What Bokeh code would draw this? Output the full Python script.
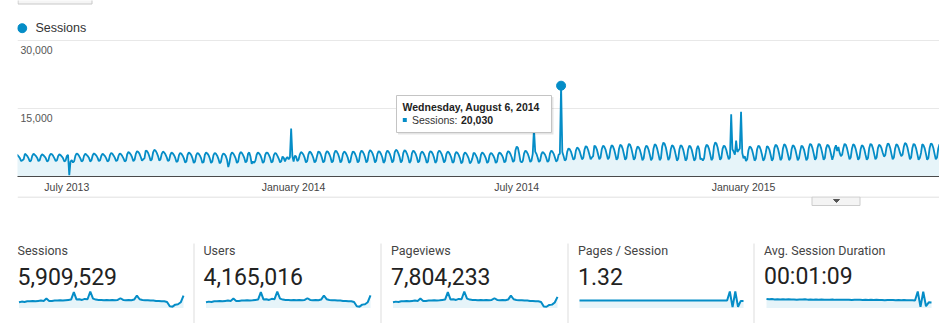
import pandas as pd
from bokeh.plotting import figure
from bokeh.layouts import column
from bokeh.models import Range1d, FixedTicker, Grid, DatetimeTickFormatter
from bokeh.core.properties import value
from bokeh.embed import file_html
from bokeh.resources import INLINE

# ------------------------------------------------------------------ data
first_day = "2013-05-20"          # a Monday; each row below is one week, Mon..Sun

sessions_2013_q2 = [
    4500, 4900, 4700, 4400, 4000, 3400, 3600,
    3800, 5000, 4800, 4500, 4000, 3300, 3500,
    4600, 5000, 4800, 4500, 4100, 3400, 3600,
    4500, 4900, 4700, 4400, 4000, 3300, 3500,
    4600, 5000, 4900, 4500, 4000, 3400, 3600,
    4500, 4900, 4700, 4400, 4000, 3300, 3500,
]
sessions_2013_q3 = [
    4500, 4800, 300, 3300, 3600, 3100, 3400,
    4600, 5100, 4900, 4500, 4000, 3300, 3500,
    4600, 5000, 4800, 4500, 4100, 3300, 3600,
    4700, 5100, 4900, 4600, 4100, 3400, 3600,
    4600, 5000, 4800, 4500, 4000, 3300, 3500,
    4700, 5200, 5000, 4600, 4100, 3400, 3600,
    4600, 5100, 4900, 4500, 4000, 3300, 3500,
    4900, 5400, 5200, 4800, 4200, 3400, 3700,
    5000, 5600, 5400, 5000, 4300, 3500, 3800,
    4000, 5700, 5600, 5200, 4400, 3500, 3800,
    5300, 5900, 5700, 5200, 4500, 3500, 3800,
    5000, 5500, 5300, 4900, 4300, 3400, 3600,
    4800, 5300, 5100, 4700, 4100, 3200, 3400,
]
sessions_2013_q4 = [
    4700, 5200, 5000, 4600, 4000, 3100, 3300,
    4800, 5300, 5100, 4700, 4000, 3000, 3300,
    4700, 5200, 5000, 4600, 4000, 3000, 3200,
    4800, 5300, 5100, 4700, 4000, 3000, 3300,
    4700, 5200, 5000, 4600, 3900, 2900, 3200,
    4600, 5100, 4900, 4500, 3700, 2100, 3100,
    4800, 5300, 5100, 4600, 4000, 3000, 3300,
    4800, 5400, 5200, 4700, 4100, 3100, 3400,
    5000, 5300, 4400, 2800, 3300, 3000, 3500,
    4800, 5300, 5100, 4700, 4000, 3000, 3300,
    4800, 5300, 5200, 4700, 4100, 3100, 3300,
    4700, 5200, 5000, 4500, 3900, 3100, 3400,
    4400, 4100, 3300, 4000, 4300, 3800, 4200,
]
sessions_2014_q1 = [
    10600, 4500, 3300, 4600, 4400, 3400, 3700,
    4800, 5400, 5200, 4800, 4100, 3100, 3400,
    4900, 5500, 5300, 4800, 4100, 3100, 3400,
    4500, 5500, 5400, 4900, 4100, 3100, 3400,
    5000, 5600, 5400, 4900, 4200, 3100, 3400,
    5100, 5700, 5500, 5000, 4200, 3100, 3500,
    5000, 5500, 5300, 4800, 4100, 3000, 3300,
    4700, 5500, 5400, 4900, 4200, 3100, 3400,
    5100, 5700, 5500, 5000, 4200, 3100, 3500,
    5200, 5800, 5600, 5100, 4300, 3100, 3500,
    5000, 5600, 5400, 4900, 4200, 3000, 3400,
    5100, 5700, 5500, 5000, 4200, 3100, 3500,
    5300, 5900, 5700, 5100, 4300, 3100, 3500,
]
sessions_2014_q2 = [
    5200, 5800, 5600, 5000, 4200, 3000, 3400,
    5100, 5700, 5500, 5000, 4200, 3100, 3400,
    5000, 5500, 5300, 4800, 4100, 3000, 3300,
    5100, 5600, 5400, 4900, 4100, 3000, 3400,
    5200, 5700, 5500, 5000, 4200, 3100, 3500,
    5000, 5500, 5300, 4800, 4100, 3000, 3300,
    4900, 5400, 5200, 4700, 4000, 2900, 3200,
    4800, 5300, 5100, 4600, 4000, 2900, 3200,
    4000, 5200, 5100, 4600, 4000, 2900, 3200,
    4800, 5300, 5100, 4600, 4000, 3000, 3300,
    4700, 5200, 5000, 4600, 4000, 3000, 3300,
    4800, 5300, 5100, 4700, 4100, 3100, 3400,
    5000, 5600, 5400, 4900, 4200, 3200, 3500,
]
sessions_2014_q3 = [
    5800, 6600, 6300, 5000, 3400, 3100, 3500,
    5100, 5700, 5500, 5000, 4200, 3200, 3500,
    5000, 10500, 5500, 5000, 4200, 3200, 3500,
    4900, 5400, 5200, 4800, 4100, 3200, 3500,
    5100, 5700, 5500, 5000, 4200, 3300, 3600,
    4800, 5000, 20030, 5400, 4500, 3500, 3800,
    5500, 6200, 6000, 5500, 4600, 3700, 4000,
    5700, 6400, 6200, 5600, 4700, 3800, 4100,
    5900, 6700, 6500, 5800, 4800, 3800, 4200,
    4500, 6800, 6600, 6000, 4900, 3800, 4200,
    6000, 6800, 6600, 6000, 4900, 3800, 4200,
    6000, 6900, 6700, 6000, 4900, 3700, 4100,
    6100, 7000, 6800, 6100, 4900, 3700, 4100,
]
sessions_2014_q4 = [
    6300, 7200, 7000, 6200, 5000, 3700, 4100,
    5800, 6600, 6400, 5800, 4800, 3600, 4000,
    6000, 6800, 6600, 5900, 4800, 3600, 4000,
    6200, 7100, 6900, 6100, 4900, 3600, 4000,
    6600, 7500, 7200, 6400, 5000, 3600, 4100,
    6000, 6900, 6700, 6000, 4800, 3500, 3900,
    6000, 6900, 6700, 6000, 4800, 3500, 3900,
    5900, 6800, 6600, 5900, 4700, 3500, 3900,
    6000, 6800, 6000, 3800, 4000, 3500, 4000,
    6200, 7000, 6800, 6100, 4900, 3600, 4000,
    6600, 7500, 7300, 6400, 5000, 3700, 4100,
    6100, 6800, 6600, 5900, 4800, 3800, 4200,
    13700, 6000, 5500, 4800, 7900, 5400, 5800,
]
sessions_2015_q1 = [
    6200, 14300, 5200, 4000, 4500, 3400, 3800,
    5800, 6600, 6400, 5800, 4700, 3500, 3900,
    6000, 6800, 6600, 5900, 4800, 3500, 3900,
    5200, 6700, 6500, 5900, 4800, 3500, 3900,
    6200, 7000, 6800, 6100, 4900, 3600, 4000,
    6200, 7100, 6900, 6100, 4900, 3600, 4000,
    6000, 6900, 6700, 6000, 4800, 3600, 4000,
    5600, 6800, 6600, 6000, 4800, 3600, 4000,
    6300, 7200, 7000, 6200, 5000, 3700, 4100,
    6300, 7200, 7000, 6200, 5000, 3700, 4100,
    6200, 7000, 6800, 6100, 4900, 3700, 4600,
    6200, 6900, 5600, 6500, 5200, 4500, 4800,
    6300, 7200, 7000, 6200, 5000, 3800, 4200,
]
sessions_2015_q2 = [
    6200, 7100, 6900, 6100, 4900, 3700, 4100,
    6000, 6900, 6700, 6000, 4800, 3700, 4100,
    6300, 7200, 7000, 6200, 5000, 3800, 4200,
    6200, 7000, 6800, 6200, 5200, 4400, 4700,
    6400, 7300, 7100, 6300, 5000, 3800, 4200,
    6200, 7100, 6900, 6200, 5200, 4500, 4800,
    6500, 7400, 7200, 6400, 5100, 3800, 4200,
    6300, 7200, 7000, 6200, 5000, 3700, 4100,
    5200, 7100, 6900, 6200, 5000, 3700, 4100,
    6300, 7300, 7100, 6300, 5000, 3800, 4200,
    6200, 7100, 6900, 6100, 5000, 3800, 4200,
]

view_start = "2013-05-22"
view_end = "2015-06-09"
highlight_date = "2014-08-06"

y_ticks = [15000, 30000]
y_tick_labels = ["15,000", "30,000"]
x_tick_dates = ["2013-07-01", "2014-01-01", "2014-07-01", "2015-01-01"]
x_tick_labels = ["July 2013", "January 2014", "July 2014", "January 2015"]

kpi_names = ["Sessions", "Users", "Pageviews", "Pages / Session", "Avg. Session Duration"]
total_sessions = 5909529
total_users = 4165016
total_pageviews = 7804233
pages_per_session = 1.32
avg_session_seconds = 69

sessions_spark_k = [6.8, 7.6, 7.2, 8.0, 8.0, 8.4, 8.0, 8.4, 8.8, 8.4, 11.2, 8.4, 8.4, 8.8, 8.8, 9.2,
                    8.8, 9.2, 9.6, 10.0, 18.8, 10.0, 10.4, 9.6, 10.8, 10.4, 19.6, 11.2, 10.0, 9.6,
                    9.6, 9.2, 9.6, 9.2, 9.6, 9.2, 9.6, 11.6, 9.6, 9.2, 9.6, 9.2, 10.0, 14.8, 10.4,
                    9.6, 9.2, 9.2, 8.8, 8.8, 8.4, 8.4, 8.0, 8.0, 7.2, 2.0, 1.6, 4.0, 4.4, 6.8, 14.8]
users_spark_k = [4.8, 5.3, 5.0, 5.6, 5.6, 5.9, 5.6, 5.9, 6.2, 5.9, 7.8, 5.9, 5.9, 6.2, 6.2, 6.4,
                 6.2, 6.4, 6.7, 7.0, 13.2, 7.0, 7.3, 6.7, 7.6, 7.3, 13.7, 7.8, 7.0, 6.7,
                 6.7, 6.4, 6.7, 6.4, 6.7, 6.4, 6.7, 8.1, 6.7, 6.4, 6.7, 6.4, 7.0, 10.4, 7.3,
                 6.7, 6.4, 6.4, 6.2, 6.2, 5.9, 5.9, 5.6, 5.6, 5.0, 1.4, 1.1, 2.8, 3.1, 4.8, 10.4]
pageviews_spark_k = [9.0, 10.0, 9.5, 10.6, 10.6, 11.1, 10.6, 11.1, 11.6, 11.1, 14.8, 11.1, 11.1, 11.6,
                     11.6, 12.1, 11.6, 12.1, 12.7, 13.2, 24.8, 13.2, 13.7, 12.7, 14.3, 13.7, 25.9,
                     14.8, 13.2, 12.7, 12.7, 12.1, 12.7, 12.1, 12.7, 12.1, 12.7, 15.3, 12.7, 12.1,
                     12.7, 12.1, 13.2, 19.5, 13.7, 12.7, 12.1, 12.1, 11.6, 11.6, 11.1, 11.1, 10.6,
                     10.6, 9.5, 2.4, 2.0, 4.8, 5.3, 8.7, 17.5]
pages_spark = [1.31, 1.32, 1.32, 1.31, 1.32, 1.33, 1.32, 1.32, 1.31, 1.32,
               1.33, 1.32, 1.32, 1.32, 1.31, 1.32, 1.32, 1.33, 1.32, 1.32,
               1.31, 1.32, 1.32, 1.32, 1.31, 1.32, 1.32, 1.33, 1.32, 1.32,
               1.31, 1.32, 1.32, 1.32, 1.33, 1.32, 1.31, 1.32, 1.32, 1.32,
               1.31, 1.32, 1.32, 1.32, 1.31, 1.32, 1.32, 1.32, 1.31, 1.32,
               1.32, 1.31, 1.32, 1.32, 1.31, 2.90, 0.15, 2.90, 0.20, 1.25, 1.25]
duration_spark_s = [77, 74, 76, 73, 75, 72, 74, 73, 75, 72,
                    73, 71, 73, 72, 74, 71, 72, 70, 72, 71,
                    73, 70, 71, 70, 72, 69, 71, 70, 71, 69,
                    70, 68, 70, 69, 70, 68, 69, 67, 69, 68,
                    69, 67, 68, 66, 68, 67, 68, 66, 67, 65,
                    67, 66, 66, 65, 64, 140, 10, 138, 15, 48, 46]

# ------------------------------------------------------------------ style / geometry
BLUE = "#058DC7"
FILL = "#E6F4F9"
W = 939
MAIN_H, BOT_H = 196, 127
FRAME_L = 17                      # left edge of both frames (px)
FRAME_T, FRAME_B = 40, 176        # y of 30,000 and of 0 (absolute px)
ARIAL = "Liberation Sans"
ROBOTO = "Roboto"

sessions = (sessions_2013_q2 + sessions_2013_q3 + sessions_2013_q4 + sessions_2014_q1 +
            sessions_2014_q2 + sessions_2014_q3 + sessions_2014_q4 + sessions_2015_q1 +
            sessions_2015_q2)
dates = pd.date_range(first_day, periods=len(sessions), freq="D")


def ms(d):
    return pd.Timestamp(d).value / 1e6


# ------------------------------------------------------------------ main chart
x0, x1 = ms(view_start), ms(view_end)
Y_TOP = 30000 * FRAME_B / (FRAME_B - FRAME_T)     # value at the top of the canvas
main = figure(width=W, height=MAIN_H, x_axis_type="datetime", x_range=Range1d(x0, x1),
              y_range=Range1d(0, Y_TOP), y_axis_location=None, toolbar_location=None,
              output_backend="svg", min_border_left=FRAME_L, min_border_right=0,
              min_border_top=0, min_border_bottom=MAIN_H - FRAME_B)
main.outline_line_color = None
main.xgrid.visible = False
main.ygrid.visible = False
main.add_layout(Grid(dimension=1, ticker=FixedTicker(ticks=y_ticks), grid_line_color="#e8e8e8"))

xa = main.xaxis[0]
xa.ticker = FixedTicker(ticks=[ms(d) for d in x_tick_dates])
xa.formatter = DatetimeTickFormatter(months="%B %Y", days="%B %Y", years="%B %Y")
xa.major_label_overrides = {ms(d): lab for d, lab in zip(x_tick_dates, x_tick_labels)}
xa.axis_line_color = "#4a4a4a"
xa.major_tick_line_color = None
xa.minor_tick_line_color = None
xa.major_tick_out = 0
xa.major_tick_in = 0
xa.major_label_standoff = 4
xa.major_label_text_font = ARIAL
xa.major_label_text_font_size = "10.5px"
xa.major_label_text_color = "#444444"


def mx(px):
    return x0 + (px - FRAME_L) / (W - FRAME_L) * (x1 - x0)


def my(py):
    return (FRAME_B - py) / (FRAME_B - FRAME_T) * 30000


# header: button stub and series legend
main.quad(left=[mx(17.5)], right=[mx(91.5)], top=[my(-4)], bottom=[my(3.5)],
          fill_color="#f5f5f5", line_color="#c8c8c8")
main.scatter(x=[mx(21.7)], y=[my(27.7)], size=9, color=BLUE)
main.text(x=[mx(35)], y=[my(27.6)], text=["Sessions"], text_font=value(ARIAL),
          text_font_size="12.5px", text_color="#333333", text_baseline="middle")

main.varea(x=dates, y1=0, y2=sessions, fill_color=FILL)
main.line(x=dates, y=sessions, line_color=BLUE, line_width=1.8)

main.text(x=[x0] * len(y_ticks), y=y_ticks, text=y_tick_labels, x_offset=3, y_offset=9.5,
          text_font=value(ARIAL), text_font_size="10.5px", text_color="#555555",
          text_baseline="middle")

hi_ts = pd.Timestamp(highlight_date)
hi_idx = int((hi_ts - dates[0]).days)
hi_val = sessions[hi_idx]

# tooltip
main.quad(left=[mx(397.5)], right=[mx(553)], top=[my(96.5)], bottom=[my(134)],
          fill_color="black", fill_alpha=0.10, line_color=None)
main.quad(left=[mx(396)], right=[mx(551)], top=[my(95)], bottom=[my(132)],
          fill_color="white", line_color="#c4c4c4")
main.text(x=[mx(402)], y=[my(106.4)], text=[hi_ts.strftime("%A, %B %-d, %Y")],
          text_font=value(ARIAL), text_font_size="10.5px", text_font_style="bold",
          text_color="#222222", text_baseline="middle")
main.quad(left=[mx(402.3)], right=[mx(406.3)], top=[my(117.6)], bottom=[my(121.6)],
          fill_color=BLUE, line_color=None)
main.text(x=[mx(411.5)], y=[my(119.9)], text=["Sessions:"], text_font=value(ARIAL),
          text_font_size="10.5px", text_color="#333333", text_baseline="middle")
main.text(x=[mx(460.5)], y=[my(119.9)], text=[f"{hi_val:,}"], text_font=value(ARIAL),
          text_font_size="10.5px", text_font_style="bold", text_color="#222222",
          text_baseline="middle")
main.scatter(x=[dates[hi_idx]], y=[hi_val], size=9, color=BLUE)

# ------------------------------------------------------------------ bottom (scorecards)
# pixel coordinates: x absolute (frame starts at 17), y measured from the top of this strip
bot = figure(width=W, height=BOT_H, x_range=Range1d(FRAME_L, W), y_range=Range1d(BOT_H, 0),
             x_axis_location=None, y_axis_location=None, toolbar_location=None,
             output_backend="svg", min_border_left=FRAME_L, min_border_right=0,
             min_border_top=0, min_border_bottom=0)
bot.outline_line_color = None
bot.xgrid.visible = False
bot.ygrid.visible = False

bot.segment(x0=[17], y0=[0.5], x1=[W], y1=[0.5], line_color="#d6d6d6", line_width=1)
bot.quad(left=[811.5], right=[859.5], top=[0.5], bottom=[9], fill_color="#f4f4f4", line_color="#cccccc")
bot.patch(x=[833, 839, 836], y=[3, 3, 6], color="#555555")

sep_xs = [193.5, 380.5, 567.5, 753.5]
bot.segment(x0=sep_xs, y0=[47] * 4, x1=sep_xs, y1=[BOT_H] * 4, line_color="#dddddd", line_width=1)

text_xs = [17, 203, 390.5, 577.5, 763.5]
kpi_values = [f"{total_sessions:,}", f"{total_users:,}", f"{total_pageviews:,}",
              f"{pages_per_session:.2f}",
              f"{avg_session_seconds // 3600:02d}:{avg_session_seconds % 3600 // 60:02d}:{avg_session_seconds % 60:02d}"]
bot.text(x=text_xs, y=[54.3] * 5, text=kpi_names, text_font=value(ROBOTO), text_font_size="12.5px",
         text_color="#444444", text_baseline="middle")
bot.text(x=text_xs, y=[80.2] * 5, text=kpi_values, text_font=value(ROBOTO), text_font_size="23px",
         text_color="#222222", text_baseline="middle")

spark_series = [sessions_spark_k, users_spark_k, pageviews_spark_k, pages_spark, duration_spark_s]
spark_boxes = [(18.5, 183.0), (205.5, 370.0), (392.5, 557.0), (579.0, 743.0), (766.0, 931.0)]
SPARK_ZERO, SPARK_TOP = 111.5, 95.0
xr, yr = {}, {}
for i, (vals, (l, r)) in enumerate(zip(spark_series, spark_boxes)):
    n = len(vals)
    ppu = (r - l) / (n - 1)
    xr[f"s{i}"] = Range1d(start=-(l - FRAME_L) / ppu, end=(n - 1) + (W - r) / ppu)
    vpp = max(vals) / (SPARK_ZERO - SPARK_TOP)
    yr[f"s{i}"] = Range1d(start=(SPARK_ZERO - BOT_H) * vpp, end=SPARK_ZERO * vpp)
bot.extra_x_ranges = xr
bot.extra_y_ranges = yr
for i, vals in enumerate(spark_series):
    idx = list(range(len(vals)))
    bot.varea(x=idx, y1=0, y2=vals, fill_color=FILL, x_range_name=f"s{i}", y_range_name=f"s{i}")
    bot.line(x=idx, y=vals, line_color=BLUE, line_width=2, x_range_name=f"s{i}", y_range_name=f"s{i}")

layout = column(main, bot, spacing=0)
open("out.html", "w").write(file_html(layout, INLINE))
